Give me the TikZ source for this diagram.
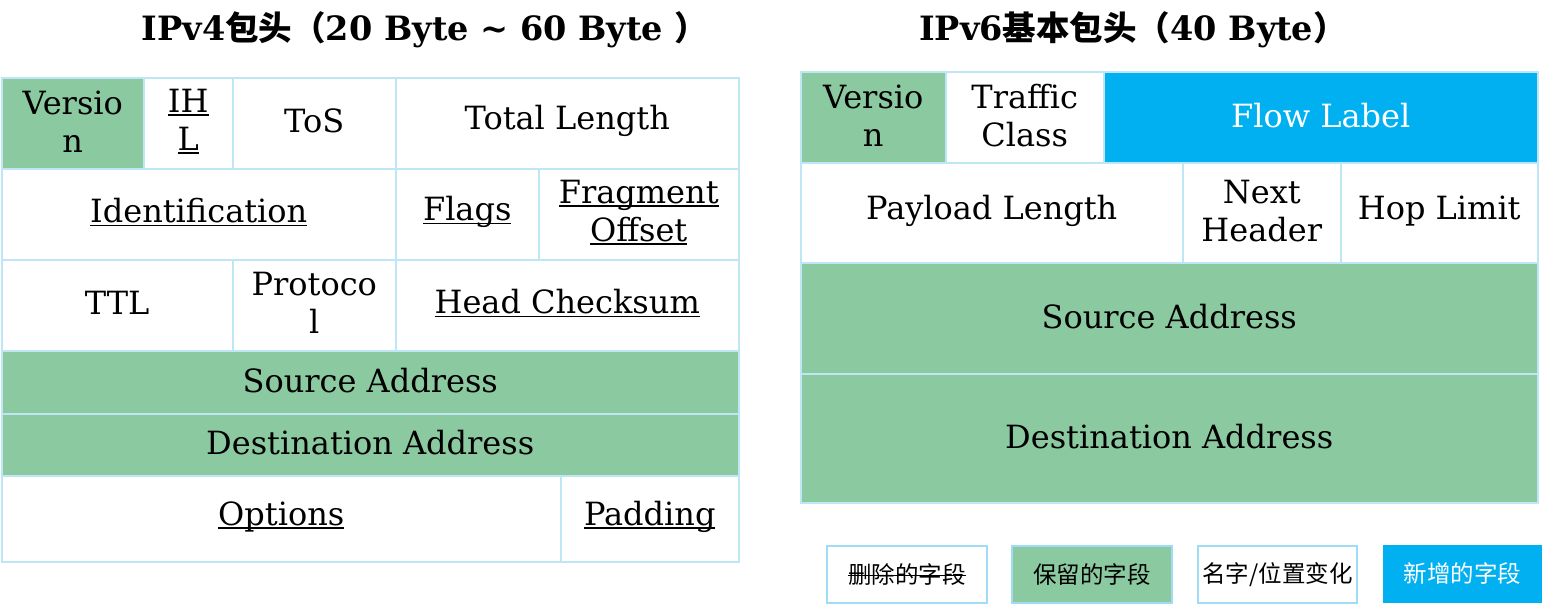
\documentclass[tikz,border=0pt]{standalone}
\usepackage{fontspec}
\setmainfont{DejaVu Serif}
\newfontfamily\cjk{Noto Sans CJK SC}
\definecolor{keep}{RGB}{139,201,160}
\definecolor{newc}{RGB}{0,176,240}
\definecolor{bord}{RGB}{190,230,245}
\definecolor{lbord}{RGB}{160,220,245}
\newcommand\uln[1]{{\setbox0\hbox{#1}\rlap{\rule[-3.5pt]{\wd0}{1.6pt}}\box0}}
\newcommand\cellbox[7]{\node[cellst, fill=#5, minimum width={#3pt-#1pt}, minimum height={#4pt-#2pt}, anchor=north west] (#6) at (#1,#2) {};
  \node[celltext] (#6t) at ([yshift=2pt]#6.center) {#7};}
\tikzset{
  cellst/.style={draw=bord, line width=1.5pt, inner sep=0pt},
  celltext/.style={inner sep=0pt, align=center,
    font=\fontsize{32}{38}\selectfont, text=black},
  titlest/.style={font=\fontsize{33.5}{38}\selectfont\bfseries, inner sep=0pt, anchor=base},
  legst/.style={line width=2pt, inner sep=0pt, anchor=north west},
  legtext/.style={font=\cjk\fontsize{23.5}{28}\selectfont, inner sep=0pt}
}
\begin{document}
\begin{tikzpicture}[x=1pt,y=-1pt]
\useasboundingbox[fill=white] (0,0) rectangle (1542,603);
% titles
\node[titlest] (t4) at (425,40) {IPv4{\cjk\bfseries 包头（}20 Byte \textasciitilde{} 60 Byte {\cjk\bfseries ）}};
\node[titlest] (t6) at (1133,40) {IPv6{\cjk\bfseries 基本包头（}40 Byte{\cjk\bfseries ）}};
% IPv4
\cellbox{1}{77}{143}{168}{keep}{v4ver}{Versio\\n}
\cellbox{143}{77}{232}{168}{white}{v4ihl}{\uln{IH}\\\uln{L}}
\cellbox{232}{77}{395}{168}{white}{v4tos}{ToS}
\cellbox{395}{77}{738}{168}{white}{v4tl}{Total Length}
\cellbox{1}{168}{395}{259}{white}{v4id}{\uln{Identification}}
\cellbox{395}{168}{538}{259}{white}{v4fl}{\uln{Flags}}
\cellbox{538}{168}{738}{259}{white}{v4fo}{\uln{Fragment}\\\uln{Offset}}
\cellbox{1}{259}{232}{350}{white}{v4ttl}{TTL}
\cellbox{232}{259}{395}{350}{white}{v4pr}{Protoco\\l}
\cellbox{395}{259}{738}{350}{white}{v4hc}{\uln{Head Checksum}}
\cellbox{1}{350}{738}{413}{keep}{v4sa}{Source Address}
\cellbox{1}{413}{738}{475}{keep}{v4da}{Destination Address}
\cellbox{1}{475}{560}{561}{white}{v4op}{\uln{Options}}
\cellbox{560}{475}{738}{561}{white}{v4pd}{\uln{Padding}}
% IPv6
\cellbox{800}{71}{945}{162}{keep}{v6ver}{Versio\\n}
\cellbox{945}{71}{1103}{162}{white}{v6tc}{Traffic\\Class}
\cellbox{1103}{71}{1537}{162}{newc}{v6fl}{\textcolor{white}{Flow Label}}
\cellbox{800}{162}{1182}{262}{white}{v6pl}{Payload Length}
\cellbox{1182}{162}{1340}{262}{white}{v6nh}{Next\\Header}
\cellbox{1340}{162}{1537}{262}{white}{v6hl}{Hop Limit}
\cellbox{800}{262}{1537}{373}{keep}{v6sa}{Source Address}
\cellbox{800}{373}{1537}{502}{keep}{v6da}{Destination Address}
% legend
\node[legst, draw=lbord, fill=white, minimum width=160pt, minimum height=57pt] (lg1) at (826,545) {};
\node[legtext] (lg1t) at (lg1.center) {删除的字段};
\draw[line width=1.3pt] ([yshift=-1pt]lg1t.west) -- ([yshift=-1pt]lg1t.east);
\node[legst, draw=lbord, fill=keep, minimum width=160pt, minimum height=57pt] (lg2) at (1011,545) {};
\node[legtext] (lg2t) at (lg2.center) {保留的字段};
\node[legst, draw=lbord, fill=white, minimum width=159pt, minimum height=57pt] (lg3) at (1197,545) {};
\node[legtext] (lg3t) at (lg3.center) {名字/位置变化};
\node[legst, draw=newc, fill=newc, minimum width=157pt, minimum height=56pt] (lg4) at (1383,545) {};
\node[legtext, text=white] (lg4t) at (lg4.center) {新增的字段};
\end{tikzpicture}
\end{document}
